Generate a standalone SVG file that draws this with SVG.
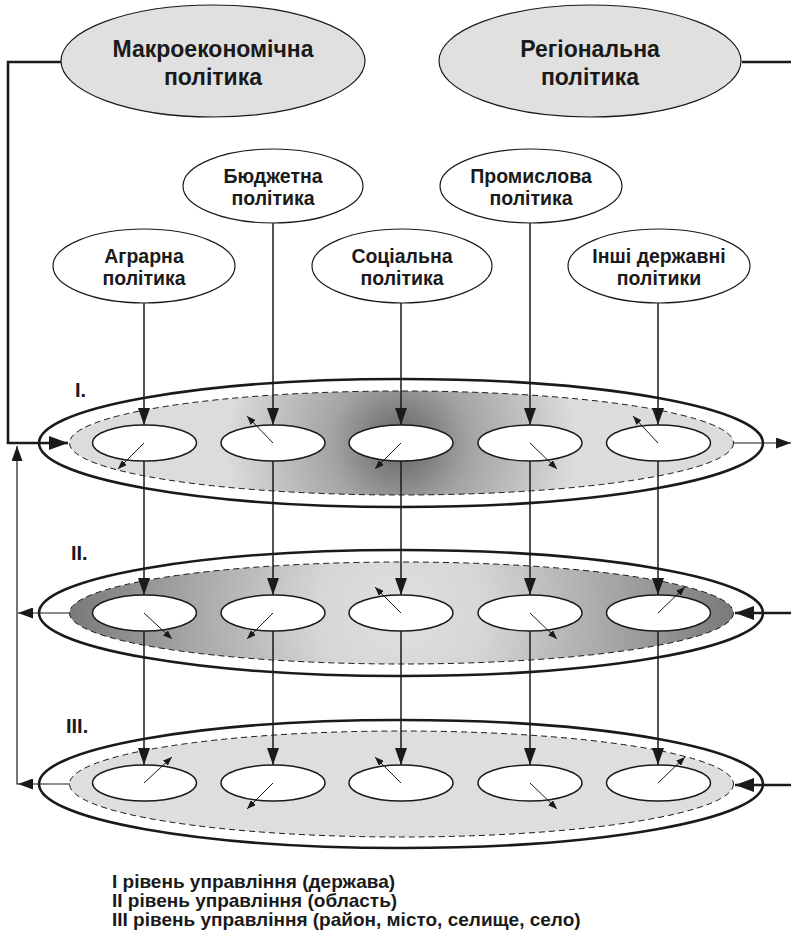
<svg xmlns="http://www.w3.org/2000/svg" width="791" height="936" viewBox="0 0 791 936">
<defs>
<style>
.t{font-family:"Liberation Sans",Arial,sans-serif;font-weight:bold;fill:#1a1a1a;text-anchor:middle}
.big{font-size:23px}
.pol{font-size:19.5px}
.lvl{font-family:"Liberation Sans",Arial,sans-serif;font-weight:bold;font-size:20px;fill:#1a1a1a}
.leg{font-family:"Liberation Sans",Arial,sans-serif;font-weight:bold;font-size:19px;fill:#1a1a1a}
.top{fill:#e0e0e0;stroke:#1a1a1a;stroke-width:1.2}
.pe{fill:#fff;stroke:#1a1a1a;stroke-width:1.2}
.outer{fill:#fff;stroke:#1a1a1a;stroke-width:2.6}
.inner{stroke:#1a1a1a;stroke-width:1;stroke-dasharray:6 4}
.se{fill:#fff;stroke:#1a1a1a;stroke-width:1.4}
.v{stroke:#1a1a1a;stroke-width:1.5;fill:none;marker-end:url(#ab)}
.s{stroke:#1a1a1a;stroke-width:1;fill:none;marker-end:url(#as)}
.thick{stroke:#1a1a1a;stroke-width:2.6;fill:none}
.thin{stroke:#1a1a1a;stroke-width:1.2;fill:none}
</style>
<marker id="ab" markerUnits="userSpaceOnUse" markerWidth="17" markerHeight="12" refX="17" refY="6" orient="auto"><path d="M0,0 L17,6 L0,12 z" fill="#1a1a1a"/></marker>
<marker id="as" markerUnits="userSpaceOnUse" markerWidth="9" markerHeight="7" refX="9" refY="3.5" orient="auto"><path d="M0,0 L9,3.5 L0,7 z" fill="#1a1a1a"/></marker>
<marker id="am" markerUnits="userSpaceOnUse" markerWidth="15" markerHeight="11" refX="15" refY="5.5" orient="auto"><path d="M0,0 L15,5.5 L0,11 z" fill="#1a1a1a"/></marker>
<marker id="ak" markerUnits="userSpaceOnUse" markerWidth="19" markerHeight="14" refX="19" refY="7" orient="auto"><path d="M0,0 L19,7 L0,14 z" fill="#1a1a1a"/></marker>
<radialGradient id="g1" gradientUnits="userSpaceOnUse" cx="401" cy="443" r="175">
<stop offset="0" stop-color="#626262"/>
<stop offset="0.4" stop-color="#a4a4a4"/>
<stop offset="1" stop-color="#dcdcdc"/>
</radialGradient>
<radialGradient id="g2" gradientUnits="userSpaceOnUse" cx="401" cy="613" r="335">
<stop offset="0" stop-color="#e0e0e0"/>
<stop offset="0.25" stop-color="#d6d6d6"/>
<stop offset="1" stop-color="#787878"/>
</radialGradient>
</defs>

<g id="macro">
<ellipse class="top" cx="213" cy="61" rx="152" ry="56"/>
<text class="t big" x="213" y="57">Макроекономічна</text>
<text class="t big" x="213" y="85">політика</text>
</g>
<g id="regional">
<ellipse class="top" cx="590" cy="61" rx="151" ry="56"/>
<text class="t big" x="590" y="57">Регіональна</text>
<text class="t big" x="590" y="85">політика</text>
</g>

<g id="agrarian">
<ellipse class="pe" cx="144" cy="266" rx="91" ry="37"/>
<text class="t pol" x="144" y="263">Аграрна</text>
<text class="t pol" x="144" y="285">політика</text>
</g>
<g id="budget">
<ellipse class="pe" cx="273" cy="186" rx="90" ry="37"/>
<text class="t pol" x="273" y="183">Бюджетна</text>
<text class="t pol" x="273" y="205">політика</text>
</g>
<g id="social">
<ellipse class="pe" cx="402" cy="266" rx="90" ry="37"/>
<text class="t pol" x="402" y="263">Соціальна</text>
<text class="t pol" x="402" y="285">політика</text>
</g>
<g id="industrial">
<ellipse class="pe" cx="531" cy="186" rx="91" ry="37"/>
<text class="t pol" x="531" y="183">Промислова</text>
<text class="t pol" x="531" y="205">політика</text>
</g>
<g id="other">
<ellipse class="pe" cx="659" cy="266" rx="91" ry="37"/>
<text class="t pol" x="659" y="263">Інші державні</text>
<text class="t pol" x="659" y="285">політики</text>
</g>

<g id="level1">
<ellipse class="outer" cx="401" cy="443" rx="362" ry="64"/>
<ellipse class="inner" fill="url(#g1)" cx="401.5" cy="443" rx="332" ry="52"/>
<text class="lvl" x="75" y="397">I.</text>
<ellipse class="se" cx="144.5" cy="443" rx="52" ry="18"/>
<ellipse class="se" cx="273" cy="443" rx="52" ry="18"/>
<ellipse class="se" cx="401" cy="443" rx="52" ry="18"/>
<ellipse class="se" cx="530" cy="443" rx="52" ry="18"/>
<ellipse class="se" cx="658.5" cy="443" rx="52" ry="18"/>
</g>
<g id="level2">
<ellipse class="outer" cx="401" cy="613" rx="362" ry="63"/>
<ellipse class="inner" fill="url(#g2)" cx="401.5" cy="613" rx="332" ry="51"/>
<text class="lvl" x="71" y="560">II.</text>
<ellipse class="se" cx="144.5" cy="613" rx="52" ry="18"/>
<ellipse class="se" cx="273" cy="613" rx="52" ry="18"/>
<ellipse class="se" cx="401" cy="613" rx="52" ry="18"/>
<ellipse class="se" cx="530" cy="613" rx="52" ry="18"/>
<ellipse class="se" cx="658.5" cy="613" rx="52" ry="18"/>
</g>
<g id="level3">
<ellipse class="outer" cx="401" cy="784" rx="362" ry="64"/>
<ellipse class="inner" fill="#dedede" cx="401.5" cy="784" rx="332" ry="53"/>
<text class="lvl" x="66" y="733">III.</text>
<ellipse class="se" cx="144.5" cy="783" rx="52" ry="18"/>
<ellipse class="se" cx="273" cy="783" rx="52" ry="18"/>
<ellipse class="se" cx="401" cy="783" rx="52" ry="18"/>
<ellipse class="se" cx="530" cy="783" rx="52" ry="18"/>
<ellipse class="se" cx="658.5" cy="783" rx="52" ry="18"/>
</g>

<g id="legend">
<text class="leg" x="112" y="888">І рівень управління (держава)</text>
<text class="leg" x="112" y="907">ІІ рівень управління (область)</text>
<text class="leg" x="112" y="926">ІІІ рівень управління (район, місто, селище, село)</text>
</g>

<g id="connectors">
<polyline class="thick" points="61,62 8,62 8,443 52,443"/>
<line class="thick" x1="50" y1="443" x2="68" y2="443" style="marker-end:url(#ak)"/>
<line class="thick" x1="742" y1="62" x2="791" y2="62"/>

<line class="v" x1="144" y1="303" x2="144" y2="425"/>
<line class="v" x1="273" y1="223" x2="273" y2="425"/>
<line class="v" x1="401" y1="303" x2="401" y2="425"/>
<line class="v" x1="530" y1="223" x2="530" y2="425"/>
<line class="v" x1="658" y1="303" x2="658" y2="425"/>

<line class="v" x1="144" y1="461" x2="144" y2="595"/>
<line class="v" x1="273" y1="461" x2="273" y2="595"/>
<line class="v" x1="401" y1="461" x2="401" y2="595"/>
<line class="v" x1="530" y1="461" x2="530" y2="595"/>
<line class="v" x1="658" y1="461" x2="658" y2="595"/>

<line class="v" x1="144" y1="631" x2="144" y2="765"/>
<line class="v" x1="273" y1="631" x2="273" y2="765"/>
<line class="v" x1="401" y1="631" x2="401" y2="765"/>
<line class="v" x1="530" y1="631" x2="530" y2="765"/>
<line class="v" x1="658" y1="631" x2="658" y2="765"/>

<line class="thin" x1="733" y1="443" x2="791" y2="443" style="marker-end:url(#am)"/>
<line class="thin" x1="70" y1="613" x2="18" y2="613" style="marker-end:url(#am)"/>
<line class="thin" x1="70" y1="784" x2="18" y2="784" style="marker-end:url(#am)"/>
<polyline class="thin" points="18,784 17,784 17,446" style="marker-end:url(#am)"/>
<line class="thick" x1="791" y1="613" x2="735" y2="613" style="marker-end:url(#ak)"/>
<line class="thick" x1="791" y1="785" x2="735" y2="785" style="marker-end:url(#ak)"/>

<line class="s" x1="144" y1="443" x2="118" y2="469"/>
<line class="s" x1="273" y1="443" x2="247" y2="416"/>
<line class="s" x1="401" y1="443" x2="375" y2="469"/>
<line class="s" x1="530" y1="443" x2="557" y2="469"/>
<line class="s" x1="658" y1="443" x2="633" y2="416"/>

<line class="s" x1="144" y1="613" x2="172" y2="639"/>
<line class="s" x1="273" y1="613" x2="247" y2="639"/>
<line class="s" x1="401" y1="613" x2="375" y2="587"/>
<line class="s" x1="530" y1="613" x2="557" y2="639"/>
<line class="s" x1="658" y1="613" x2="685" y2="587"/>

<line class="s" x1="144" y1="783" x2="172" y2="757"/>
<line class="s" x1="273" y1="783" x2="247" y2="809"/>
<line class="s" x1="401" y1="783" x2="375" y2="757"/>
<line class="s" x1="530" y1="783" x2="557" y2="809"/>
<line class="s" x1="658" y1="783" x2="685" y2="757"/>
</g>
</svg>
